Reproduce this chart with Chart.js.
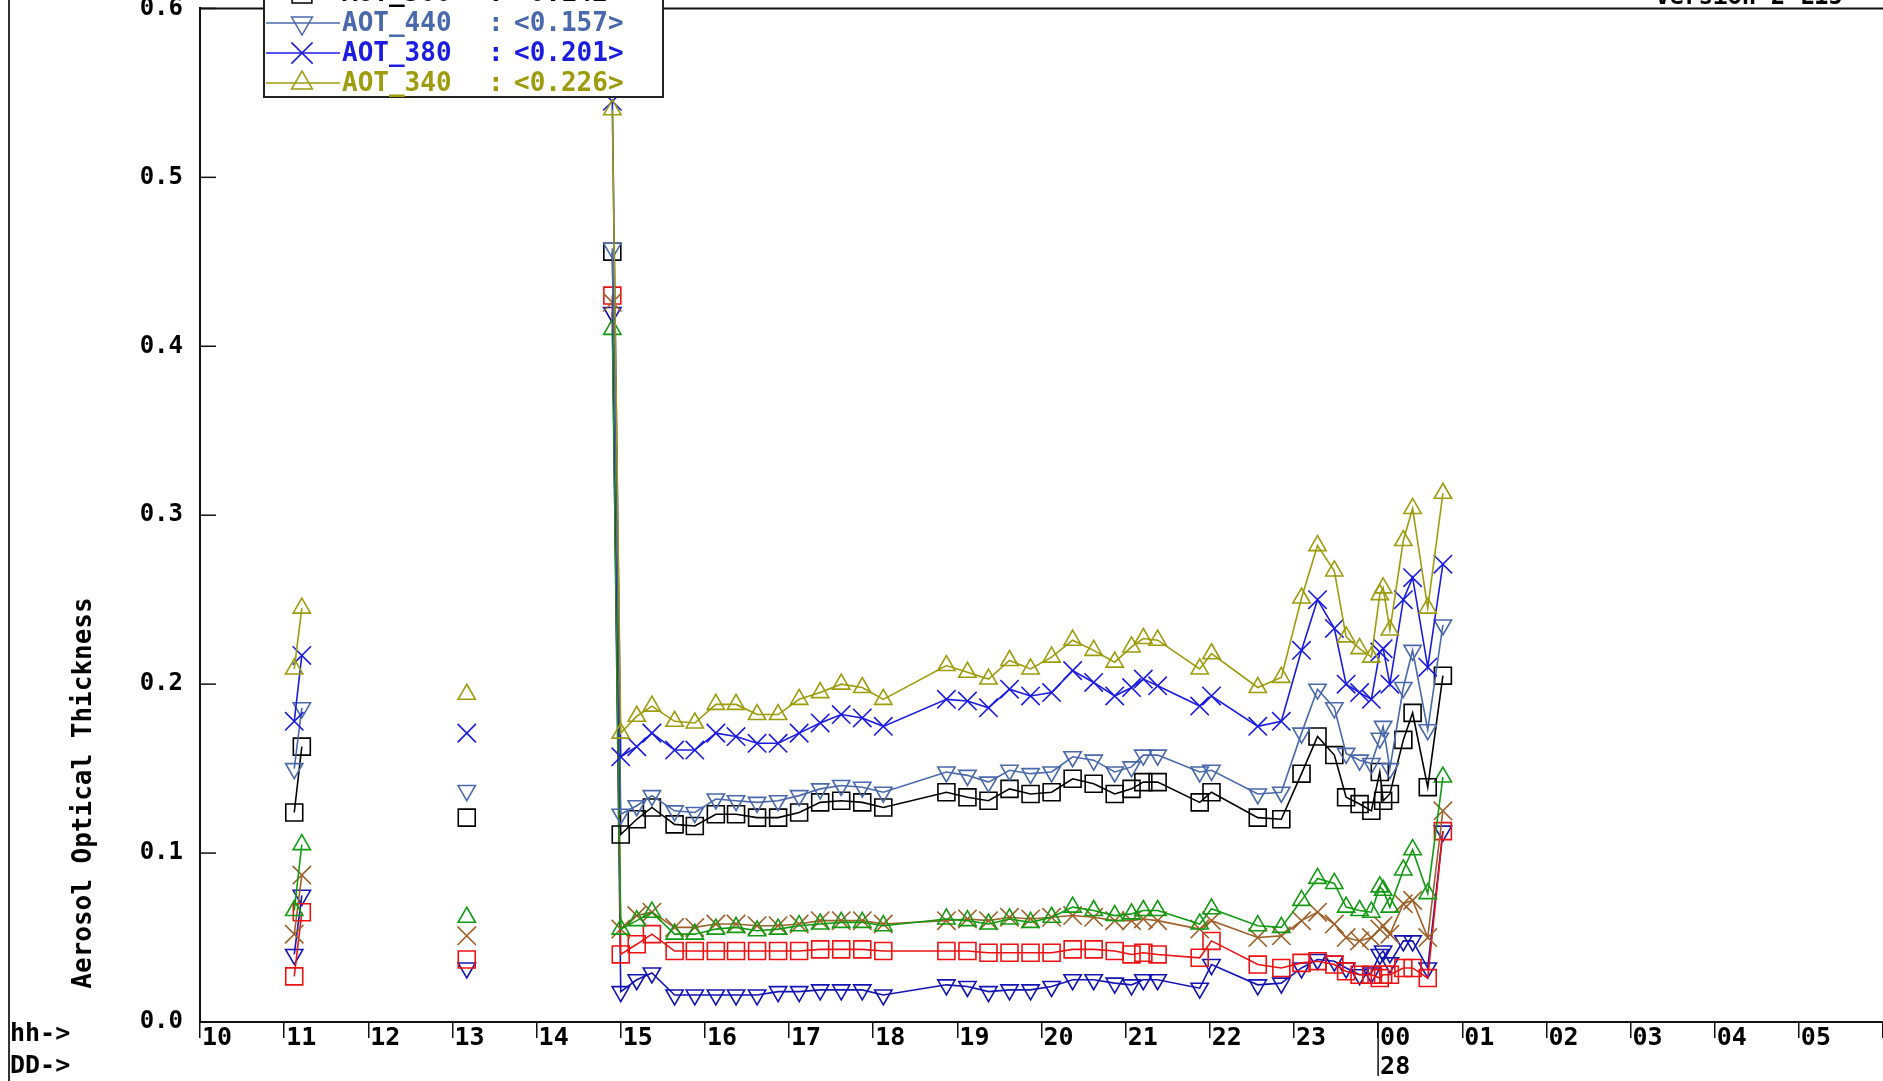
<!DOCTYPE html>
<html><head><meta charset="utf-8">
<script src="https://cdn.jsdelivr.net/npm/chart.js@4.4.0/dist/chart.umd.min.js"></script>
<style>html,body{margin:0;padding:0;background:#fff;overflow:hidden}canvas{display:block}</style>
</head><body>
<canvas id="c" width="1883" height="1081"></canvas>
<script>
// time in hours from 00 UTC of day 27 (values >= 24 belong to day 28)
const hours = [11.12, 11.21, 13.17, 14.90,
 15.00, 15.19, 15.37, 15.64, 15.88, 16.13, 16.37, 16.62, 16.87, 17.12, 17.37, 17.62, 17.87, 18.12,
 18.87, 19.12, 19.37, 19.62, 19.87, 20.12, 20.37, 20.62,
 20.87, 21.07, 21.21, 21.38,
 21.88, 22.02,
 22.57, 22.85,
 23.09, 23.28, 23.48, 23.62, 23.78, 23.92,
 24.02, 24.06, 24.14, 24.30, 24.41, 24.59, 24.77];

const aot340 = [0.209, 0.245, 0.194, 0.540,
 0.171, 0.181, 0.187, 0.178, 0.177, 0.188, 0.188, 0.182, 0.182, 0.191, 0.195, 0.200, 0.198, 0.191,
 0.211, 0.207, 0.203, 0.214, 0.209, 0.216, 0.226, 0.220,
 0.213, 0.222, 0.227, 0.226,
 0.209, 0.218,
 0.198, 0.204,
 0.251, 0.282, 0.267, 0.228, 0.221, 0.216,
 0.253, 0.257, 0.232, 0.285, 0.304, 0.245, 0.313];

const aot380 = [0.178, 0.217, 0.171, 0.545,
 0.157, 0.163, 0.171, 0.161, 0.161, 0.171, 0.169, 0.165, 0.165, 0.171, 0.177, 0.182, 0.180, 0.175,
 0.191, 0.190, 0.186, 0.197, 0.193, 0.195, 0.208, 0.201,
 0.193, 0.198, 0.203, 0.199,
 0.187, 0.193,
 0.175, 0.178,
 0.220, 0.250, 0.233, 0.200, 0.195, 0.191,
 0.219, 0.221, 0.200, 0.250, 0.263, 0.210, 0.271];

const aot440 = [0.150, 0.186, 0.137, 0.458,
 0.123, 0.128, 0.134, 0.125, 0.124, 0.132, 0.131, 0.130, 0.131, 0.134, 0.138, 0.140, 0.139, 0.136,
 0.148, 0.146, 0.142, 0.149, 0.147, 0.148, 0.157, 0.155,
 0.148, 0.151, 0.158, 0.158,
 0.148, 0.149,
 0.135, 0.136,
 0.171, 0.197, 0.186, 0.159, 0.155, 0.153,
 0.168, 0.175, 0.150, 0.198, 0.220, 0.173, 0.235];

const aot500 = [0.124, 0.163, 0.121, 0.456,
 0.111, 0.120, 0.127, 0.117, 0.116, 0.123, 0.123, 0.121, 0.121, 0.124, 0.130, 0.131, 0.130, 0.127,
 0.136, 0.133, 0.131, 0.138, 0.135, 0.136, 0.144, 0.141,
 0.135, 0.138, 0.142, 0.142,
 0.130, 0.136,
 0.121, 0.120,
 0.147, 0.169, 0.158, 0.133, 0.129, 0.125,
 0.148, 0.131, 0.135, 0.167, 0.183, 0.139, 0.205];

const aot675 = [0.066, 0.105, 0.062, 0.410,
 0.055, 0.060, 0.065, 0.052, 0.052, 0.055, 0.056, 0.054, 0.055, 0.057, 0.058, 0.059, 0.059, 0.057,
 0.061, 0.060, 0.058, 0.061, 0.059, 0.062, 0.068, 0.066,
 0.063, 0.064, 0.066, 0.066,
 0.058, 0.067,
 0.057, 0.056,
 0.072, 0.085, 0.082, 0.068, 0.066, 0.065,
 0.080, 0.078, 0.068, 0.090, 0.102, 0.076, 0.145];

const aot870 = [0.052, 0.087, 0.051, 0.426,
 0.055, 0.063, 0.065, 0.056, 0.056, 0.058, 0.058, 0.057, 0.057, 0.058, 0.060, 0.060, 0.060, 0.058,
 0.060, 0.061, 0.060, 0.062, 0.061, 0.062, 0.063, 0.062,
 0.060, 0.060, 0.061, 0.060,
 0.055, 0.060,
 0.050, 0.051,
 0.060, 0.065, 0.058, 0.050, 0.048, 0.050,
 0.055, 0.057, 0.052, 0.070, 0.072, 0.050, 0.125];

const aot1020 = [0.027, 0.065, 0.037, 0.430,
 0.040, 0.046, 0.052, 0.042, 0.042, 0.042, 0.042, 0.042, 0.042, 0.042, 0.043, 0.043, 0.043, 0.042,
 0.042, 0.042, 0.041, 0.041, 0.041, 0.041, 0.043, 0.043,
 0.042, 0.040, 0.041, 0.040,
 0.038, 0.048,
 0.034, 0.032,
 0.035, 0.036, 0.034, 0.030, 0.028, 0.028,
 0.026, 0.028, 0.028, 0.032, 0.032, 0.026, 0.113];

const aot1640 = [0.040, 0.075, 0.032, 0.420,
 0.018, 0.025, 0.029, 0.016, 0.016, 0.016, 0.016, 0.016, 0.018, 0.018, 0.019, 0.019, 0.019, 0.016,
 0.022, 0.021, 0.018, 0.019, 0.019, 0.021, 0.025, 0.025,
 0.023, 0.022, 0.025, 0.025,
 0.020, 0.034,
 0.022, 0.023,
 0.032, 0.037, 0.036, 0.032, 0.028, 0.029,
 0.040, 0.042, 0.035, 0.048, 0.048, 0.032, 0.113];

// legend entries visible in the (cropped) legend box, with their means
const legendNames = ['AOT_500', 'AOT_440', 'AOT_380', 'AOT_340'];
const legendMeans = ['0.142', '0.157', '0.201', '0.226'];

const yTicks = [0.0, 0.1, 0.2, 0.3, 0.4, 0.5, 0.6];
const dayLabel = '28';
const versionText = 'Version 2 L15';

const COL = {
  'AOT_340': '#9c9c0c', 'AOT_380': '#1c1ce0', 'AOT_440': '#4a68ac', 'AOT_500': '#000000',
  'AOT_675': '#129a12', 'AOT_870': '#a0602a', 'AOT_1020': '#ee1111', 'AOT_1640': '#1414b4'
};
const STY = {
  'AOT_340': ['triangle', 0, 10], 'AOT_380': ['crossRot', 0, 13], 'AOT_440': ['triangle', 180, 10],
  'AOT_500': ['rect', 0, 12], 'AOT_675': ['triangle', 0, 10], 'AOT_870': ['crossRot', 0, 13],
  'AOT_1020': ['rect', 0, 12], 'AOT_1640': ['triangle', 180, 10]
};
const seriesList = [
  ['AOT_340', aot340], ['AOT_380', aot380], ['AOT_440', aot440], ['AOT_500', aot500],
  ['AOT_675', aot675], ['AOT_870', aot870], ['AOT_1020', aot1020], ['AOT_1640', aot1640]
];

const datasets = seriesList.map(([name, vals]) => ({
  label: name,
  data: hours.map((h, i) => ({x: h, y: vals[i]})),
  borderColor: COL[name],
  backgroundColor: 'rgba(0,0,0,0)',
  pointBorderColor: COL[name],
  pointBackgroundColor: 'rgba(0,0,0,0)',
  pointStyle: STY[name][0],
  pointRotation: STY[name][1],
  pointRadius: STY[name][2],
  pointBorderWidth: 1.6,
  borderWidth: 1.6,
  tension: 0,
  spanGaps: 1,
  fill: false
}));

const FONT = 'DejaVu Sans Mono';

function drawMarker(ctx, style, rot, r, x, y) {
  if (Chart.helpers && Chart.helpers.drawPoint) {
    Chart.helpers.drawPoint(ctx, {pointStyle: style, rotation: rot, radius: r, borderWidth: 1.5}, x, y);
  }
}

const extras = {
  id: 'extras',
  afterDraw(chart) {
    const ctx = chart.ctx;
    const ca = chart.chartArea;
    const xs = chart.scales.x, ys = chart.scales.y;
    ctx.save();
    // outer left frame line
    ctx.strokeStyle = '#333'; ctx.lineWidth = 2;
    ctx.beginPath(); ctx.moveTo(9, 0); ctx.lineTo(9, 1081); ctx.stroke();
    // plot top border
    ctx.strokeStyle = '#111'; ctx.lineWidth = 2;
    ctx.beginPath(); ctx.moveTo(ca.left, ca.top); ctx.lineTo(1883, ca.top); ctx.stroke();
    // inward y tick marks
    ctx.lineWidth = 1.5;
    yTicks.forEach(v => {
      const y = ys.getPixelForValue(v);
      ctx.beginPath(); ctx.moveTo(ca.left, y); ctx.lineTo(ca.left + 16, y); ctx.stroke();
    });
    // day separator tick and label
    const x0 = xs.getPixelForValue(24);
    ctx.beginPath(); ctx.moveTo(x0, ca.bottom); ctx.lineTo(x0, 1076); ctx.stroke();
    ctx.fillStyle = '#000';
    ctx.font = 'bold 25px ' + FONT;
    ctx.textBaseline = 'middle'; ctx.textAlign = 'left';
    ctx.fillText(dayLabel, x0 + 2, 1067);
    ctx.fillText('hh->', 10, 1034);
    ctx.fillText('DD->', 10, 1066);
    // y axis title
    ctx.save();
    ctx.translate(84, 793);
    ctx.rotate(-Math.PI / 2);
    ctx.textAlign = 'center';
    ctx.font = 'bold 26px ' + FONT;
    ctx.fillText('Aerosol Optical Thickness', 0, 0);
    ctx.restore();
    // version text (cropped at top)
    ctx.textAlign = 'right'; ctx.textBaseline = 'alphabetic';
    ctx.font = 'bold 24px ' + FONT;
    ctx.fillText(versionText, 1843, 4);
    // legend box
    ctx.fillStyle = '#fff';
    ctx.fillRect(264, -60, 399, 157);
    ctx.strokeStyle = '#222'; ctx.lineWidth = 2;
    ctx.strokeRect(264, -60, 399, 157);
    const rowY = [-7, 23, 53, 83];
    legendNames.forEach((nm, i) => {
      const y = rowY[i];
      const c = COL[nm];
      ctx.strokeStyle = c; ctx.lineWidth = 1.5;
      ctx.beginPath(); ctx.moveTo(266, y); ctx.lineTo(340, y); ctx.stroke();
      ctx.fillStyle = 'rgba(0,0,0,0)';
      drawMarker(ctx, STY[nm][0], STY[nm][1], STY[nm][2] + 2, 302, y);
      ctx.fillStyle = c;
      ctx.font = 'bold 26px ' + FONT;
      ctx.textAlign = 'left'; ctx.textBaseline = 'middle';
      ctx.fillText(nm, 342, y + 1);
      ctx.fillText(':', 488, y + 1);
      ctx.fillText('<' + legendMeans[i] + '>', 514, y + 1);
    });
    ctx.restore();
  }
};

new Chart(document.getElementById('c'), {
  type: 'line',
  data: {datasets},
  plugins: [extras],
  options: {
    responsive: false,
    animation: false,
    devicePixelRatio: 1,
    layout: {autoPadding: false, padding: {top: 8.4, left: 0, right: 0, bottom: 0}},
    plugins: {legend: {display: false}, tooltip: {enabled: false}},
    scales: {
      x: {
        type: 'linear', min: 10, max: 30, position: 'bottom',
        afterFit(s) { s.height = 59; s.paddingLeft = 0; s.paddingRight = 0; },
        ticks: {
          stepSize: 1, autoSkip: false, maxRotation: 0, minRotation: 0, align: 'start',
          padding: -15, labelOffset: 2, color: '#000',
          font: {family: FONT, weight: 'bold', size: 25},
          callback: v => (v >= 30 ? '' : String(v % 24).padStart(2, '0'))
        },
        grid: {drawOnChartArea: false, drawTicks: true, tickLength: 16, color: '#111', lineWidth: 1.5},
        border: {display: true, color: '#111', width: 2}
      },
      y: {
        type: 'linear', min: 0, max: 0.6,
        afterFit(s) { s.width = 200; s.paddingTop = 0; s.paddingBottom = 0; },
        ticks: {
          stepSize: 0.1, padding: 17, color: '#000',
          font: {family: FONT, weight: 'bold', size: 24, lineHeight: 0.7},
          callback: v => Number(v).toFixed(1)
        },
        grid: {drawOnChartArea: false, drawTicks: false},
        border: {display: true, color: '#111', width: 2}
      }
    }
  }
});
</script>
</body></html>
